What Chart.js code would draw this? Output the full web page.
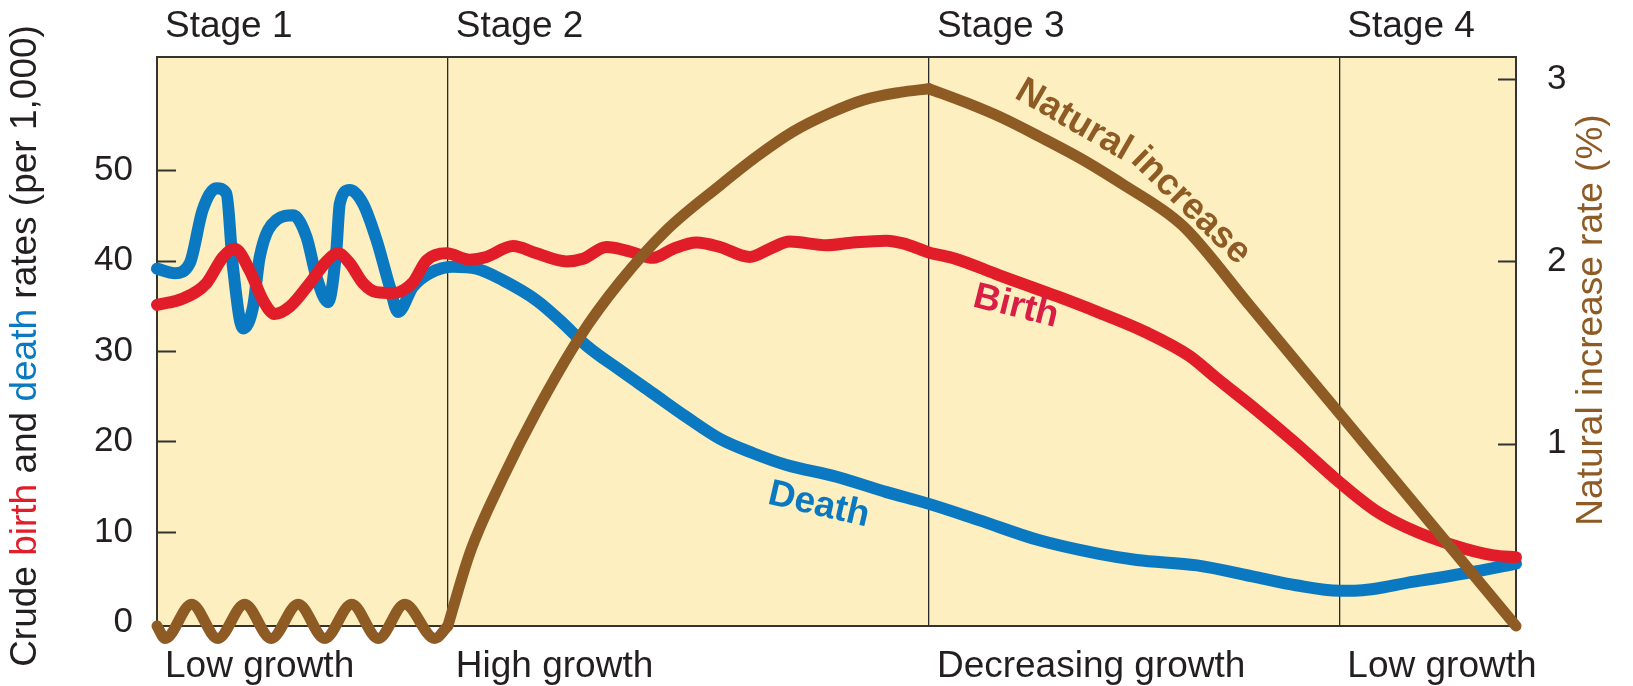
<!DOCTYPE html>
<html>
<head>
<meta charset="utf-8">
<title>Demographic transition</title>
<script src="https://cdn.jsdelivr.net/npm/chart.js@4.4.1/dist/chart.umd.min.js"></script>
<style>
    html, body { margin: 0; padding: 0; background: #ffffff; }
    canvas { display: block; }
</style>
</head>
<body>
<canvas id="transitionChart" width="1633" height="686"></canvas>
<script>
/* x runs 0..100 across the plot (time through the transition) */
const stageStart = [0, 21.4, 56.8, 87.0];
const stageNames = ['Stage 1', 'Stage 2', 'Stage 3', 'Stage 4'];
const growthNames = ['Low growth', 'High growth', 'Decreasing growth', 'Low growth'];

const rateTicks = [0, 10, 20, 30, 40, 50];
const increaseTicks = [1, 2, 3];

// crude birth rate (per 1,000)
const birthX = [0, 1.91, 3.64, 4.86, 5.72, 6.82, 7.8, 8.66, 9.77, 11.24, 12.47, 13.32, 14.18, 15.16, 16.15,
    17.37, 18.84, 19.83, 21.3, 23.01, 24.24, 26.2, 27.92, 30.13, 31.35, 33.08, 34.79, 36.51, 37.98, 39.7,
    41.41, 43.62, 45.09, 46.56, 49.27, 51.23, 53.68, 54.91, 56.8, 58.74, 61.94, 66.31, 69.23, 72.72, 75.92,
    77.96, 80.88, 83.79, 87.0, 89.62, 91.94, 95.44, 98.35, 100];
const birthRate = [35.1, 35.8, 37.5, 40.4, 41.3, 38.9, 35.6, 34.1, 34.9, 37.5, 39.9, 40.8, 39.7, 37.5, 36.5,
    36.4, 37.6, 40.0, 40.8, 40.1, 40.4, 41.6, 40.8, 39.9, 40.2, 41.5, 41.0, 40.3, 41.3, 42.0,
    41.5, 40.4, 41.3, 42.1, 41.7, 42.0, 42.2, 41.9, 40.9, 40.2, 38.4, 36.0, 34.3, 32.1, 29.5,
    27.0, 23.5, 19.8, 15.5, 12.4, 10.5, 8.5, 7.4, 7.2];

// crude death rate (per 1,000)
const deathX = [0, 1.3, 2.41, 3.36, 4.37, 5.11, 5.59, 6.33, 7.07, 7.56, 8.79, 10.01, 11.0, 11.73, 12.59,
    13.2, 13.45, 14.18, 15.16, 16.15, 17.13, 17.74, 18.84, 20.07, 21.79, 23.51, 25.47, 27.92, 29.64, 31.6,
    34.05, 36.51, 38.96, 41.41, 43.87, 46.32, 50.0, 53.68, 56.8, 60.48, 64.86, 69.23, 72.1, 76.52, 80.86,
    83.81, 87.0, 88.15, 92.49, 96.91, 100];
const deathRate = [39.1, 38.6, 39.7, 45.6, 48.0, 47.4, 39.3, 32.5, 34.9, 40.4, 44.5, 45.0, 42.6, 38.2, 35.4,
    41.2, 46.3, 47.8, 46.3, 42.3, 37.1, 34.3, 37.1, 38.6, 39.3, 39.1, 37.8, 35.6, 33.4, 30.6,
    27.9, 25.3, 22.7, 20.3, 18.7, 17.4, 16.1, 14.4, 13.1, 11.3, 9.1, 7.6, 6.9, 6.3, 5.0,
    4.1, 3.5, 3.5, 4.5, 5.6, 6.5];

// natural increase rate (%): stage 1 wobble, stage 2 rise, stages 3-4 fall
const increaseWaveX = [0, 0.6, 2.55, 4.47, 6.45, 8.4, 10.39, 12.34, 14.33, 16.28, 18.23, 20.44, 21.4];
const increaseWave = [0, -0.068, 0.119, -0.068, 0.119, -0.068, 0.119, -0.068, 0.119, -0.068, 0.119, -0.068, 0.0];
const increaseRiseX = [21.4, 23.02, 25.44, 27.95, 31.11, 34.06, 37.51, 41.49, 44.14, 46.79, 49.44, 52.01, 54.66, 56.8];
const increaseRise = [0.0, 0.4, 0.81, 1.18, 1.585, 1.886, 2.172, 2.42, 2.575, 2.71, 2.81, 2.885, 2.926, 2.946];
const increaseFallX = [56.8, 59.59, 62.02, 64.97, 68.14, 71.37, 74.32, 75.79, 80.42, 87.0, 100];
const increaseFall = [2.946, 2.868, 2.792, 2.682, 2.556, 2.408, 2.265, 2.172, 1.756, 1.166, 0];

/* ==========================================================================
   LOOK
   ========================================================================== */
const FONT = '"Liberation Sans", Arial, Helvetica, sans-serif';
const INK = '#231f20';
const BLUE = '#0a79c1';
const RED = '#e21d2a';
const BROWN = '#8e5b25';
const PAPER = '#fdefc0';

const pairs = (xs, ys) => xs.map((x, i) => ({ x: x, y: ys[i] }));

function lineSet(label, data, color, width, axis) {
    return {
        label: label,
        data: data,
        yAxisID: axis,
        borderColor: color,
        borderWidth: width,
        pointRadius: 0,
        fill: false,
        cubicInterpolationMode: 'monotone',
        borderCapStyle: 'round',
        borderJoinStyle: 'round',
        clip: false
    };
}

// plot background, frame, inward tick marks and all the annotation text
const paperPlugin = {
    id: 'paper',
    beforeDraw(chart) {
        const { ctx, chartArea: a } = chart;
        ctx.save();
        ctx.fillStyle = PAPER;
        ctx.fillRect(a.left, a.top, a.right - a.left, a.bottom - a.top);
        ctx.restore();
    },
    beforeDatasetsDraw(chart) {
        const { ctx, chartArea: a, scales } = chart;
        ctx.save();
        ctx.strokeStyle = '#333333';
        ctx.lineWidth = 2;
        ctx.strokeRect(a.left, a.top, a.right - a.left, a.bottom - a.top);
        ctx.beginPath();
        scales.y.ticks.forEach(t => {
            if (t.value === 0) return;
            const y = Math.round(scales.y.getPixelForValue(t.value)) + 0.5;
            ctx.moveTo(a.left, y);
            ctx.lineTo(a.left + 19, y);
        });
        scales.y2.ticks.forEach(t => {
            const y = Math.round(scales.y2.getPixelForValue(t.value)) + 0.5;
            ctx.moveTo(a.right - 18, y);
            ctx.lineTo(a.right, y);
        });
        ctx.stroke();
        ctx.restore();
    },
    afterDraw(chart) {
        const { ctx, chartArea: a, scales } = chart;
        const xs = scales.x;
        ctx.save();

        // stage names above, growth names below
        ctx.font = `37px ${FONT}`;
        ctx.fillStyle = INK;
        ctx.textAlign = 'left';
        ctx.textBaseline = 'alphabetic';
        stageStart.forEach((v, i) => {
            const x = xs.getPixelForValue(v) + 8;
            ctx.fillText(stageNames[i], x, a.top - 20);
            ctx.fillText(growthNames[i], x, a.bottom + 51);
        });

        // left title, two words coloured like their lines
        const parts = [['Crude ', INK], ['birth', RED], [' and ', INK], ['death', BLUE], [' rates (per 1,000)', INK]];
        ctx.save();
        ctx.translate(26, 346);
        ctx.rotate(-Math.PI / 2);
        ctx.textBaseline = 'middle';
        const total = parts.reduce((s, p) => s + ctx.measureText(p[0]).width, 0);
        let cx = -total / 2;
        parts.forEach(p => {
            ctx.fillStyle = p[1];
            ctx.fillText(p[0], cx, 0);
            cx += ctx.measureText(p[0]).width;
        });
        ctx.restore();

        // right title reads bottom to top
        ctx.save();
        ctx.translate(1592, 320);
        ctx.rotate(-Math.PI / 2);
        ctx.textAlign = 'center';
        ctx.textBaseline = 'middle';
        ctx.fillStyle = BROWN;
        ctx.fillText('Natural increase rate (%)', 0, 0);
        ctx.restore();

        // curve labels
        const tag = (text, x, y, scale, deg, color) => {
            ctx.save();
            ctx.translate(xs.getPixelForValue(x), scales[scale].getPixelForValue(y));
            ctx.rotate(deg * Math.PI / 180);
            ctx.font = `bold 37px ${FONT}`;
            ctx.textAlign = 'center';
            ctx.textBaseline = 'middle';
            ctx.fillStyle = color;
            ctx.fillText(text, 0, 0);
            ctx.restore();
        };
        tag('Death', 48.7, 12.96, 'y', 13, BLUE);
        tag('Birth', 63.2, 34.9, 'y', 14, '#d81e45');
        tag('Natural', 67.45, 2.773, 'y2', 30, BROWN);
        tag('increase', 76.07, 2.302, 'y2', 44, BROWN);

        ctx.restore();
    }
};

function renderChart() {
    new Chart(document.getElementById('transitionChart').getContext('2d'), {
        type: 'line',
        data: {
            datasets: [
                lineSet('Natural increase', pairs(increaseWaveX, increaseWave), BROWN, 11, 'y2'),
                lineSet('Natural increase', pairs(increaseRiseX, increaseRise), BROWN, 11, 'y2'),
                lineSet('Natural increase', pairs(increaseFallX, increaseFall), BROWN, 11, 'y2'),
                lineSet('Birth', pairs(birthX, birthRate), RED, 12, 'y'),
                lineSet('Death', pairs(deathX, deathRate), BLUE, 12, 'y')
            ]
        },
        options: {
            responsive: false,
            devicePixelRatio: 1,
            animation: false,
            layout: { padding: { top: 57, left: 0, right: 0, bottom: 0 } },
            plugins: { legend: { display: false }, tooltip: { enabled: false } },
            scales: {
                x: {
                    type: 'linear', min: 0, max: 100,
                    afterBuildTicks: s => { s.ticks = stageStart.concat([100]).map(v => ({ value: v })); },
                    afterFit: s => { s.height = 60; },
                    grid: { color: '#2b2b2b', lineWidth: 1.3, drawTicks: false },
                    border: { display: false },
                    ticks: { display: false }
                },
                y: {
                    position: 'left', min: -0.4, max: 62.5,
                    afterBuildTicks: s => { s.ticks = rateTicks.map(v => ({ value: v })); },
                    afterFit: s => { s.width = 157; },
                    grid: { drawOnChartArea: false, drawTicks: false },
                    border: { display: false },
                    ticks: { padding: 24, color: INK, font: { family: FONT, size: 35 } }
                },
                y2: {
                    position: 'right', min: 0, max: 3.12,
                    afterBuildTicks: s => { s.ticks = increaseTicks.map(v => ({ value: v })); },
                    afterFit: s => { s.width = 117; },
                    grid: { drawOnChartArea: false, drawTicks: false },
                    border: { display: false },
                    ticks: { padding: 31, color: INK, font: { family: FONT, size: 35 } }
                }
            }
        },
        plugins: [paperPlugin]
    });
}

document.addEventListener('DOMContentLoaded', renderChart);
</script>
</body>
</html>
